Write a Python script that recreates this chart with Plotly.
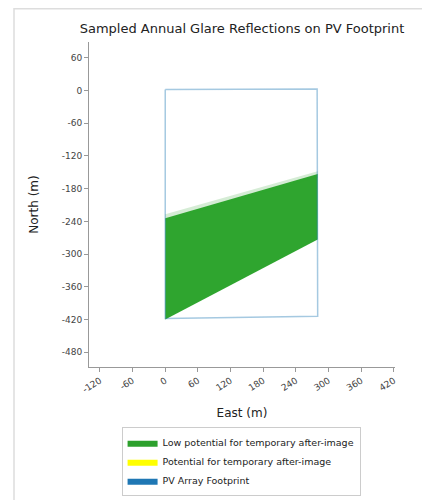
import plotly.graph_objects as go

# ---- data ----
footprint_east = [0, 279, 280, 0, 0]
footprint_north = [2, 3, -414, -418, 2]

glare_east = [0, 280, 280, 0, 0]
glare_north = [-234, -153, -273, -420, -234]

# soft upper fringe of the sampled glare cloud
fringe_east = [0, 280, 280, 0, 0]
fringe_north = [-227, -148, -160, -240, -227]

x_ticks = [-120, -60, 0, 60, 120, 180, 240, 300, 360, 420]
y_ticks = [60, 0, -60, -120, -180, -240, -300, -360, -420, -480]

legend_labels = ["Low potential for temporary after-image",
                 "Potential for temporary after-image",
                 "PV Array Footprint"]
legend_colors = ["#2ca02c", "#ffff00", "#1f77b4"]

FONT = "DejaVu Sans"

fig = go.Figure()

fig.add_trace(go.Scatter(x=fringe_east, y=fringe_north, fill="toself",
                         fillcolor="rgba(44,160,44,0.2)", line=dict(width=0),
                         mode="lines", showlegend=False, hoverinfo="skip"))
fig.add_trace(go.Scatter(x=glare_east, y=glare_north, fill="toself",
                         fillcolor="rgba(40,162,40,0.97)", line=dict(width=0),
                         mode="lines", showlegend=False, hoverinfo="skip"))
fig.add_trace(go.Scatter(x=footprint_east, y=footprint_north, mode="lines",
                         line=dict(color="rgba(31,119,180,0.4)", width=1.5),
                         showlegend=False, hoverinfo="skip"))

for lab, col in zip(legend_labels, legend_colors):
    fig.add_trace(go.Scatter(x=[None], y=[None], mode="lines", fill="toself",
                             fillcolor=col, line=dict(color=col, width=0),
                             name=lab, showlegend=True))

axis_common = dict(showgrid=False, zeroline=False, showline=True,
                   linecolor="#999", linewidth=1, ticks="outside",
                   ticklen=4, tickcolor="#999", automargin=False,
                   tickfont=dict(family=FONT, size=9, color="#444"))

fig.update_layout(
    width=422, height=492,
    margin=dict(l=81, r=35, t=34, b=133, autoexpand=False),
    paper_bgcolor="white", plot_bgcolor="white",
    font=dict(family=FONT, color="#333"),
    title=dict(text="Sampled Annual Glare Reflections on PV Footprint",
               x=0.5, xref="paper", xanchor="center",
               y=1 - 20 / 492, yref="container", yanchor="middle",
               font=dict(family=FONT, size=13, color="#222")),
    xaxis=dict(range=[-140, 422], tickvals=x_ticks,
               ticktext=[str(v) for v in x_ticks], tickangle=-32,
               title=dict(text="East (m)", font=dict(family=FONT, size=12, color="#222"),
                          standoff=14),
               **axis_common),
    yaxis=dict(range=[-507, 89], tickvals=y_ticks,
               ticktext=[str(v) for v in y_ticks],
               title=dict(text="North (m)", font=dict(family=FONT, size=12, color="#222"),
                          standoff=20),
               **axis_common),
    legend=dict(x=0.497, xanchor="center", y=-0.185, yanchor="top",
                orientation="v", bordercolor="#ccc", borderwidth=1,
                bgcolor="white", itemwidth=30, tracegroupgap=0,
                font=dict(family=FONT, size=9.5, color="#222")),
    shapes=[dict(type="rect", xref="paper", yref="paper",
                 x0=(6 - 81) / 306, x1=1.5, y0=-1.0, y1=1 + 33.2 / 325,
                 line=dict(color="#dddddd", width=1.5), layer="below")],
)

fig.write_html("out.html")
